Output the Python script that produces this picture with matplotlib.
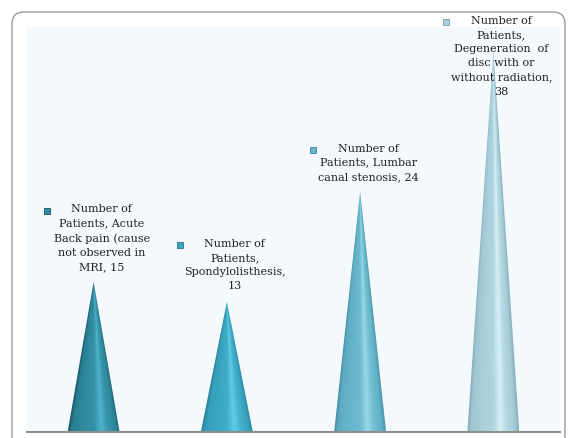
import matplotlib.pyplot as plt
import numpy as np
from matplotlib.patches import Polygon, FancyBboxPatch
from matplotlib.colors import to_rgb

# Patients by diagnosis
categories = [
    "Acute Back pain (cause\nnot observed in\nMRI",
    "Spondylolisthesis",
    "Lumbar\ncanal stenosis",
    "Degeneration  of\ndisc with or\nwithout radiation",
]
patients = [15, 13, 24, 38]

labels = [
    "Number of\nPatients, Acute\nBack pain (cause\nnot observed in\nMRI, 15",
    "Number of\nPatients,\nSpondylolisthesis,\n13",
    "Number of\nPatients, Lumbar\ncanal stenosis, 24",
    "Number of\nPatients,\nDegeneration  of\ndisc with or\nwithout radiation,\n38",
]

# dark edge, body, highlight for each cone
cone_colors = [
    ("#184f5e", "#2f8ba0", "#56bdd4"),
    ("#23758c", "#3ba7c3", "#6ad6f0"),
    ("#3f8398", "#66b6cb", "#a6e0ee"),
    ("#779fab", "#a9d0db", "#e2f7fc"),
]

W, H = 570, 439
fig = plt.figure(figsize=(W / 100, H / 100), dpi=100)
fig.patch.set_facecolor("white")

# rounded chart border
frame = FancyBboxPatch((12, -30), 553, 456, boxstyle="round,pad=0,rounding_size=12",
                       transform=None, facecolor="white", edgecolor="#9a9a9a",
                       linewidth=1.0, zorder=-1)
fig.patches.append(frame)

ax = fig.add_axes([27 / W, 6 / H, 533 / W, 405 / H])
ax.set_facecolor("#f3f9fd")
ax.set_xlim(-0.5, 3.5)
ax.set_ylim(0, 40.5)
for s in ["top", "right", "left"]:
    ax.spines[s].set_visible(False)
ax.spines["bottom"].set_color("#8e8e8e")
ax.spines["bottom"].set_linewidth(1.5)
ax.set_xticks([])
ax.set_yticks([])

half_w = 0.195
# brightness profile across the cone surface (-1 left edge .. 1 right edge)
prof_u = [-1.0, -0.85, -0.4, 0.0, 0.3, 0.55, 0.85, 1.0]
prof_v = [0.1, 0.4, 0.5, 0.55, 0.9, 0.6, 0.45, 0.2]

ny, nx = 300, 120
for i, val in enumerate(patients):
    dark, mid, light = [np.array(to_rgb(c)) for c in cone_colors[i]]
    xs = np.linspace(-half_w, half_w, nx)
    ys = np.linspace(0, val, ny)
    X, Y = np.meshgrid(xs, ys)
    hw = half_w * (1 - Y / val) + 1e-6
    u = np.clip(X / hw, -1, 1)
    p = np.interp(u, prof_u, prof_v)[..., None]
    img = np.where(p < 0.5, dark + (mid - dark) * (p / 0.5),
                   mid + (light - mid) * ((p - 0.5) / 0.5))
    tri = Polygon([(i - half_w, 0), (i + half_w, 0), (i, val)], closed=True,
                  facecolor="none", edgecolor="none", transform=ax.transData)
    ax.add_patch(tri)
    im = ax.imshow(img, extent=[i - half_w, i + half_w, 0, val], origin="lower",
                   aspect="auto", interpolation="bilinear", zorder=2)
    im.set_clip_path(tri)

ax.set_xlim(-0.5, 3.5)
ax.set_ylim(0, 40.5)

# data labels with small legend keys
fig.canvas.draw()
line_h = 14.5
for i, (val, txt) in enumerate(zip(patients, labels)):
    tx, ty = ax.transData.transform((i, val))
    n = txt.count("\n") + 1
    top = ty + 6 + n * line_h
    top = min(top, H - 16)
    fig.text((tx + 8) / W, top / H, txt, ha="center", va="top",
             fontsize=8, family="DejaVu Serif", color="#222222",
             linespacing=1.52, zorder=5)
    fig.add_artist(plt.Line2D([(tx - 47) / W], [(top - 7) / H], marker="s",
                              markersize=5, markerfacecolor=cone_colors[i][1],
                              markeredgecolor=cone_colors[i][0],
                              markeredgewidth=0.6, linestyle="none"))

fig.savefig("out.png", dpi=100)
